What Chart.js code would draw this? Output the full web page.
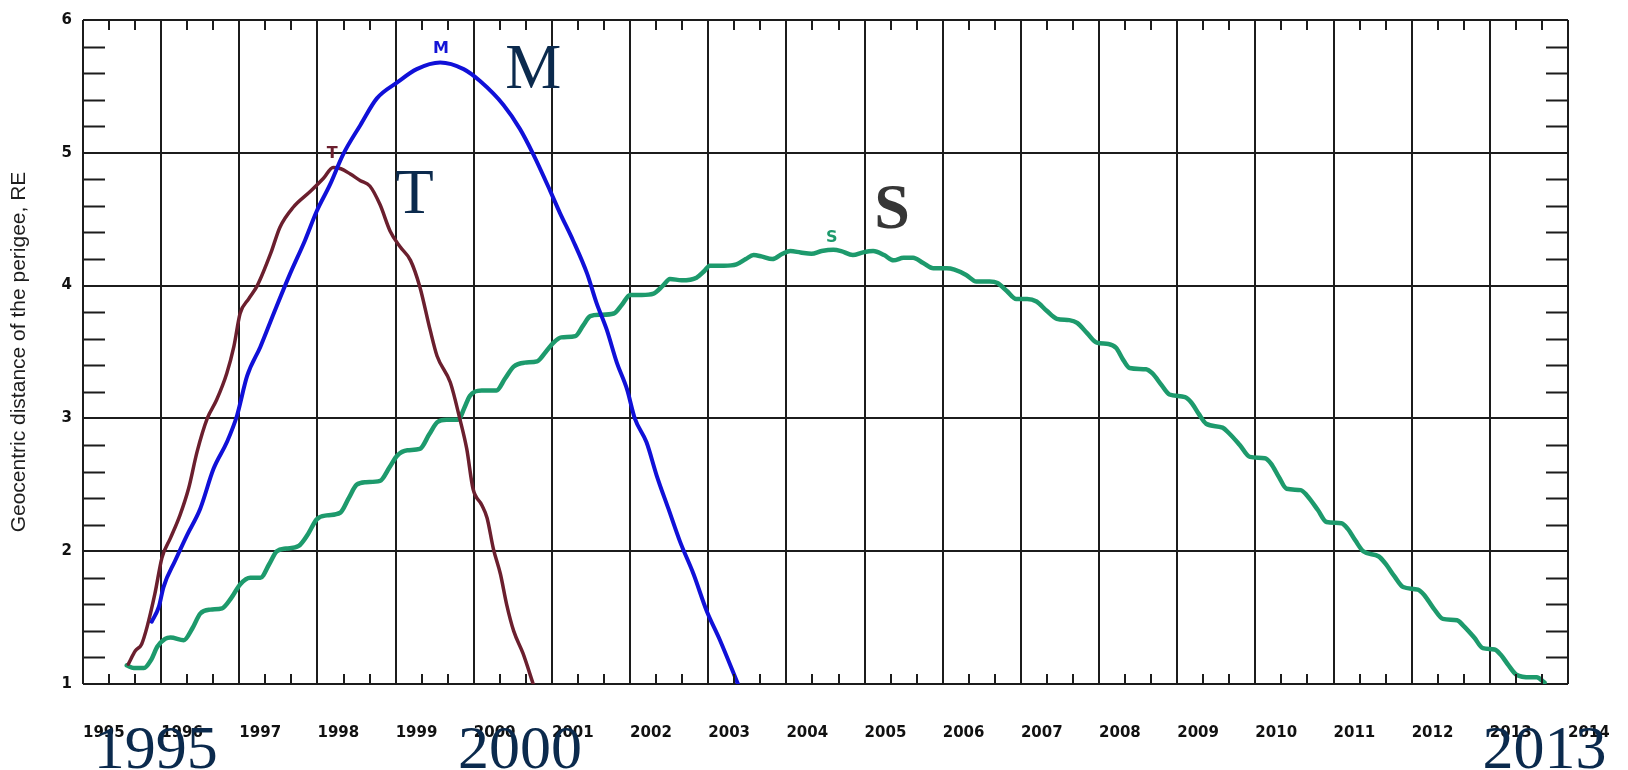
<!DOCTYPE html>
<html>
<head>
<meta charset="utf-8">
<script src="https://cdn.jsdelivr.net/npm/chart.js@4"></script>
<style>
  html, body { margin: 0; padding: 0; background: #ffffff; }
  #wrap { width: 1628px; height: 770px; position: relative; }
</style>
</head>
<body>
<div id="wrap"><canvas id="chart-perigee"></canvas></div>
<script>
// perigee distance (Earth radii) against time
const yearsM = [
  1995.88, 1995.97, 1996.03, 1996.18, 1996.33, 1996.50, 1996.67, 1996.84, 1996.97, 1997.10,
  1997.27, 1997.44, 1997.65, 1997.84, 1997.99, 1998.16, 1998.33, 1998.55, 1998.76, 1999.02,
  1999.27, 1999.57, 1999.87, 2000.08, 2000.38, 2000.59, 2000.76, 2000.98, 2001.10, 2001.27,
  2001.45, 2001.57, 2001.70, 2001.83, 2001.96, 2002.06, 2002.21, 2002.34, 2002.49, 2002.64,
  2002.81, 2002.98, 2003.15, 2003.38,
];
const valuesM = [
  1.47, 1.58, 1.73, 1.93, 2.12, 2.32, 2.62, 2.82, 3.02, 3.32,
  3.54, 3.79, 4.09, 4.34, 4.56, 4.76, 4.99, 5.21, 5.41, 5.53,
  5.63, 5.68, 5.63, 5.54, 5.36, 5.18, 4.99, 4.71, 4.55, 4.34,
  4.09, 3.87, 3.67, 3.42, 3.22, 3.00, 2.82, 2.57, 2.32, 2.07,
  1.83, 1.55, 1.33, 1.00,
];

const yearsT = [
  1995.58, 1995.67, 1995.75, 1995.82, 1995.92, 1996.01, 1996.12, 1996.24, 1996.35, 1996.46,
  1996.59, 1996.71, 1996.84, 1996.93, 1997.01, 1997.12, 1997.23, 1997.40, 1997.52, 1997.69,
  1997.91, 1998.08, 1998.20, 1998.30, 1998.42, 1998.55, 1998.67, 1998.80, 1998.93, 1999.06,
  1999.19, 1999.31, 1999.44, 1999.53, 1999.70, 1999.82, 1999.91, 1999.99, 2000.10, 2000.17,
  2000.25, 2000.34, 2000.42, 2000.51, 2000.63, 2000.76,
];
const valuesT = [
  1.15, 1.25, 1.30, 1.43, 1.68, 1.95, 2.10, 2.27, 2.47, 2.75,
  3.00, 3.14, 3.34, 3.54, 3.79, 3.90, 4.00, 4.24, 4.44, 4.59,
  4.71, 4.81, 4.89, 4.88, 4.84, 4.79, 4.75, 4.61, 4.41, 4.29,
  4.19, 3.99, 3.67, 3.47, 3.27, 3.00, 2.77, 2.47, 2.35, 2.25,
  2.02, 1.83, 1.60, 1.40, 1.23, 1.00,
];

const yearsS = [
  1995.56, 1995.65, 1995.78, 1995.87, 1995.95, 1996.05, 1996.12, 1996.29, 1996.40, 1996.50,
  1996.63, 1996.78, 1996.90, 1997.01, 1997.14, 1997.27, 1997.38, 1997.48, 1997.60, 1997.76,
  1997.88, 1997.99, 1998.12, 1998.29, 1998.40, 1998.50, 1998.62, 1998.80, 1998.92, 1999.02,
  1999.15, 1999.31, 1999.43, 1999.53, 1999.65, 1999.80, 1999.88, 1999.95, 2000.10, 2000.29,
  2000.40, 2000.51, 2000.65, 2000.81, 2000.92, 2001.02, 2001.12, 2001.30, 2001.40, 2001.49,
  2001.62, 2001.79, 2001.90, 2002.00, 2002.15, 2002.30, 2002.42, 2002.51, 2002.66, 2002.85,
  2002.95, 2003.02, 2003.20, 2003.36, 2003.48, 2003.58, 2003.68, 2003.82, 2003.95, 2004.05,
  2004.18, 2004.32, 2004.45, 2004.60, 2004.70, 2004.85, 2004.98, 2005.11, 2005.25, 2005.37,
  2005.50, 2005.62, 2005.75, 2005.88, 2006.05, 2006.15, 2006.30, 2006.43, 2006.60, 2006.70,
  2006.82, 2006.94, 2007.08, 2007.20, 2007.33, 2007.46, 2007.62, 2007.72, 2007.85, 2007.97,
  2008.12, 2008.22, 2008.30, 2008.39, 2008.60, 2008.68, 2008.80, 2008.90, 2009.10, 2009.18,
  2009.28, 2009.37, 2009.58, 2009.66, 2009.80, 2009.93, 2010.12, 2010.20, 2010.30, 2010.40,
  2010.58, 2010.66, 2010.80, 2010.91, 2011.10, 2011.18, 2011.28, 2011.38, 2011.58, 2011.66,
  2011.78, 2011.89, 2012.08, 2012.16, 2012.28, 2012.40, 2012.58, 2012.66, 2012.80, 2012.91,
  2013.06, 2013.14, 2013.24, 2013.34, 2013.52, 2013.60, 2013.70,
];
const valuesS = [
  1.14, 1.12, 1.12, 1.18, 1.28, 1.34, 1.35, 1.33, 1.42, 1.53,
  1.56, 1.57, 1.65, 1.75, 1.80, 1.80, 1.90, 2.00, 2.02, 2.04,
  2.13, 2.24, 2.27, 2.29, 2.40, 2.50, 2.52, 2.53, 2.63, 2.72,
  2.76, 2.77, 2.88, 2.97, 2.99, 2.99, 3.08, 3.17, 3.21, 3.21,
  3.30, 3.39, 3.42, 3.43, 3.50, 3.57, 3.61, 3.62, 3.70, 3.77,
  3.78, 3.79, 3.86, 3.93, 3.93, 3.94, 4.00, 4.05, 4.04, 4.06,
  4.11, 4.15, 4.15, 4.16, 4.20, 4.23, 4.22, 4.20, 4.24, 4.26,
  4.25, 4.24, 4.26, 4.27, 4.26, 4.23, 4.25, 4.26, 4.23, 4.19,
  4.21, 4.21, 4.17, 4.13, 4.13, 4.12, 4.08, 4.03, 4.03, 4.02,
  3.96, 3.90, 3.90, 3.88, 3.81, 3.75, 3.74, 3.72, 3.64, 3.57,
  3.56, 3.53, 3.45, 3.38, 3.37, 3.34, 3.25, 3.18, 3.16, 3.12,
  3.03, 2.96, 2.93, 2.89, 2.80, 2.71, 2.70, 2.66, 2.56, 2.47,
  2.46, 2.42, 2.31, 2.22, 2.21, 2.17, 2.08, 2.00, 1.96, 1.91,
  1.81, 1.73, 1.71, 1.67, 1.57, 1.49, 1.48, 1.44, 1.35, 1.27,
  1.26, 1.22, 1.14, 1.07, 1.05, 1.05, 1.01,
];

const yearTicks = [
  1995, 1996, 1997, 1998, 1999, 2000, 2001, 2002, 2003, 2004,
  2005, 2006, 2007, 2008, 2009, 2010, 2011, 2012, 2013, 2014,
];
const distanceTicks = [1, 2, 3, 4, 5, 6];

const yTitle = "Geocentric distance of the perigee, RE";

// small letters at the peaks and the big overlaid captions
const curveLabels = [
  { text: "M", year: 1999.58, dist: 5.75, color: "#1414d6", font: "bold 16px 'DejaVu Sans'" },
  { text: "T", year: 1998.19, dist: 4.96, color: "#6b1f2e", font: "bold 16px 'DejaVu Sans'" },
  { text: "S", year: 2004.58, dist: 4.33, color: "#1d9a6c", font: "bold 16px 'DejaVu Sans'" },
  { text: "M", year: 2000.76, dist: 5.485, color: "#0b2a4d", font: "63px 'Liberation Serif'" },
  { text: "T", year: 1999.24, dist: 4.55, color: "#0b2a4d", font: "63px 'Liberation Serif'" },
  { text: "S", year: 2005.35, dist: 4.43, color: "#363636", font: "bold 64px 'Liberation Serif'" },
];
const yearCaptions = [
  { text: "1995", year: 1995.93 },
  { text: "2000", year: 2000.59 },
  { text: "2013", year: 2013.70 },
];

const toPoints = (xs, ys) => xs.map((x, i) => ({ x: x, y: ys[i] }));

const ink = "#1c1c1c";

const minorTicks = {
  id: "minorTicks",
  afterDatasetsDraw(chart) {
    const { ctx, chartArea: a, scales } = chart;
    const x = scales.x;
    const y = scales.y;
    ctx.save();
    ctx.strokeStyle = ink;
    ctx.lineWidth = 2;
    ctx.beginPath();
    for (let i = 1; i < 25; i++) {
      if (i % 5 === 0) continue;
      const py = Math.round(y.getPixelForValue(1 + i * 0.2)) + 0.5;
      ctx.moveTo(a.left, py);
      ctx.lineTo(a.left + 22, py);
      ctx.moveTo(a.right, py);
      ctx.lineTo(a.right - 22, py);
    }
    for (let k = 1; k < 57; k++) {
      if (k % 3 === 0) continue;
      const px = Math.round(x.getPixelForValue(1995 + k / 3));
      ctx.moveTo(px, a.top);
      ctx.lineTo(px, a.top + 10);
      ctx.moveTo(px, a.bottom);
      ctx.lineTo(px, a.bottom - 10);
    }
    ctx.stroke();
    ctx.restore();
  },
};

const captions = {
  id: "captions",
  afterDraw(chart) {
    const { ctx, scales } = chart;
    const x = scales.x;
    const y = scales.y;
    ctx.save();
    ctx.textAlign = "center";
    ctx.textBaseline = "alphabetic";
    curveLabels.forEach((l) => {
      ctx.fillStyle = l.color;
      ctx.font = l.font;
      ctx.fillText(l.text, x.getPixelForValue(l.year), y.getPixelForValue(l.dist));
    });
    ctx.fillStyle = "#0b2a4d";
    ctx.font = "62px 'Liberation Serif'";
    yearCaptions.forEach((c) => {
      ctx.fillText(c.text, x.getPixelForValue(c.year), chart.height - 2);
    });
    ctx.restore();
  },
};

const chartPerigee = document.querySelector("#chart-perigee").getContext("2d");

new Chart(chartPerigee, {
  type: "line",
  data: {
    datasets: [
      { data: toPoints(yearsM, valuesM), borderColor: "#1010d8", borderWidth: 4 },
      { data: toPoints(yearsT, valuesT), borderColor: "#6b1f2e", borderWidth: 3.5 },
      { data: toPoints(yearsS, valuesS), borderColor: "#1d9a6c", borderWidth: 4.5 },
    ],
  },
  options: {
    responsive: true,
    maintainAspectRatio: false,
    devicePixelRatio: 1,
    animation: false,
    layout: { padding: 0 },
    elements: {
      point: { radius: 0 },
      line: { cubicInterpolationMode: "monotone", borderJoinStyle: "round", borderCapStyle: "round" },
    },
    plugins: {
      legend: { display: false },
      tooltip: { enabled: false },
    },
    scales: {
      x: {
        type: "linear",
        position: "bottom",
        min: 1995,
        max: 2014,
        afterBuildTicks: (scale) => { scale.ticks = yearTicks.map((v) => ({ value: v })); },
        afterFit: (scale) => {
          scale.height = 86;
          // the last label may hang past the plot, as in the original
          scale.paddingLeft = 0;
          scale.paddingRight = 0;
        },
        ticks: {
          align: "start",
          padding: 40,
          autoSkip: false,
          maxRotation: 0,
          color: "#111",
          font: { family: "DejaVu Sans", weight: "bold", size: 15 },
          callback: (v) => String(v),
        },
        grid: { color: ink, lineWidth: 2, drawTicks: false },
        border: { display: false },
      },
      xTop: {
        type: "linear",
        position: "top",
        min: 1995,
        max: 2014,
        afterFit: (scale) => { scale.height = 13; },
        ticks: { display: false },
        grid: { display: false },
        border: { display: false },
      },
      y: {
        type: "linear",
        position: "left",
        min: 1,
        max: 6,
        afterBuildTicks: (scale) => { scale.ticks = distanceTicks.map((v) => ({ value: v })); },
        afterFit: (scale) => { scale.width = 83; },
        ticks: {
          padding: 11,
          color: "#111",
          font: { family: "DejaVu Sans", weight: "bold", size: 15 },
          callback: (v) => String(v),
        },
        title: {
          display: true,
          text: yTitle,
          color: "#1e1e1e",
          font: { family: "Liberation Sans", size: 21 },
          padding: { top: 7, bottom: 0 },
        },
        grid: { color: ink, lineWidth: 2, drawTicks: false },
        border: { display: false },
      },
      yRight: {
        type: "linear",
        position: "right",
        min: 1,
        max: 6,
        afterFit: (scale) => { scale.width = 60; },
        ticks: { display: false },
        grid: { display: false },
        border: { display: false },
      },
    },
  },
  plugins: [minorTicks, captions],
});
</script>
</body>
</html>
